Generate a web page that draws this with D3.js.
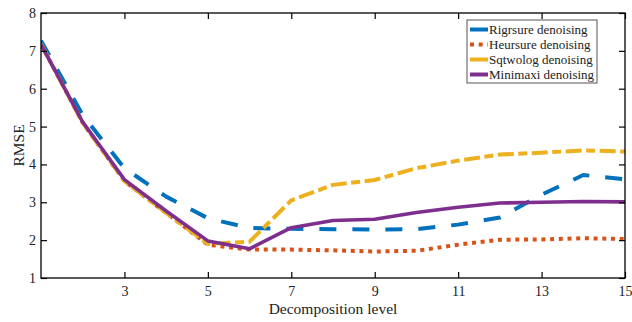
<!DOCTYPE html>
<html>
<head>
<meta charset="utf-8">
<script src="https://cdn.jsdelivr.net/npm/d3@7"></script>
<style>
  body { margin: 0; background: #fff; }
  svg text { font-family: "Liberation Serif", "Times New Roman", serif; fill: #222; }
</style>
</head>
<body>
<svg id="chart" width="632" height="322"></svg>
<script>
// decomposition levels 1..15
const levels = d3.range(1, 16);
const xTicks = [3, 5, 7, 9, 11, 13, 15];
const yTicks = [1, 2, 3, 4, 5, 6, 7, 8];

const rigrsure = [7.27, 5.3, 3.9, 3.15, 2.58, 2.32, 2.3, 2.29, 2.28, 2.29, 2.41, 2.6, 3.2, 3.72, 3.61];
const heursure = [7.18, 5.1, 3.56, 2.72, 1.88, 1.75, 1.75, 1.73, 1.7, 1.72, 1.88, 2.01, 2.02, 2.05, 2.03];
const sqtwolog = [7.18, 5.1, 3.56, 2.72, 1.9, 1.96, 3.05, 3.46, 3.59, 3.9, 4.1, 4.26, 4.31, 4.37, 4.34];
const minimaxi = [7.17, 5.12, 3.6, 2.77, 1.98, 1.77, 2.33, 2.52, 2.55, 2.73, 2.87, 2.98, 3.0, 3.02, 3.01];

const seriesNames = ["Rigrsure denoising", "Heursure denoising", "Sqtwolog denoising", "Minimaxi denoising"];
const seriesValues = [rigrsure, heursure, sqtwolog, minimaxi];
const seriesColors = ["#0072BD", "#D95319", "#EDB120", "#7E2F8E"];
const seriesDash = ["17,16", "4,4.7", "16,4.5,9,4.5", null];

const svg = d3.select("#chart");
const margin = { top: 13, right: 7, bottom: 44, left: 41 };
const W = 632, H = 322;
const iw = W - margin.left - margin.right;
const ih = H - margin.top - margin.bottom;

const x = d3.scaleLinear().domain([1, 15]).range([0, iw]);
const y = d3.scaleLinear().domain([1, 8]).range([ih, 0]);

const g = svg.append("g").attr("transform", `translate(${margin.left},${margin.top})`);

g.append("defs").append("clipPath").attr("id", "clip")
  .append("rect").attr("width", iw).attr("height", ih);

// lines
const line = d3.line().x((d, i) => x(levels[i])).y(d => y(d));
const plot = g.append("g").attr("clip-path", "url(#clip)");
seriesValues.forEach((vals, k) => {
  plot.append("path")
    .datum(vals)
    .attr("d", line)
    .attr("fill", "none")
    .attr("stroke", seriesColors[k])
    .attr("stroke-width", k === 3 ? 3.6 : 4)
    .attr("stroke-linejoin", "round")
    .attr("stroke-dasharray", seriesDash[k]);
});

// axes with inward ticks on all four sides
const tickSize = 6;
const axBottom = g.append("g").attr("transform", `translate(0,${ih})`)
  .call(d3.axisBottom(x).tickValues(xTicks).tickSizeInner(-tickSize).tickSizeOuter(0)
    .tickPadding(8).tickFormat(d3.format("d")));
const axLeft = g.append("g")
  .call(d3.axisLeft(y).tickValues(yTicks).tickSizeInner(-tickSize).tickSizeOuter(0)
    .tickPadding(5).tickFormat(d3.format("d")));
const axTop = g.append("g")
  .call(d3.axisTop(x).tickValues(xTicks).tickSizeInner(-tickSize).tickSizeOuter(0).tickFormat(""));
const axRight = g.append("g").attr("transform", `translate(${iw},0)`)
  .call(d3.axisRight(y).tickValues(yTicks).tickSizeInner(-tickSize).tickSizeOuter(0).tickFormat(""));

[axBottom, axLeft, axTop, axRight].forEach(a => {
  a.select(".domain").remove();
  a.selectAll("line").attr("stroke", "#000").attr("stroke-width", 1.2);
  a.selectAll("text").attr("font-size", 14).attr("fill", "#222")
    .style("font-family", '"Liberation Serif", serif');
});

g.append("rect")
  .attr("width", iw).attr("height", ih)
  .attr("fill", "none").attr("stroke", "#000").attr("stroke-width", 1.3);

// axis titles
svg.append("text")
  .attr("x", margin.left + iw / 2).attr("y", 314)
  .attr("text-anchor", "middle").attr("font-size", 15.5)
  .text("Decomposition level");
svg.append("text")
  .attr("transform", `translate(24,${margin.top + ih / 2}) rotate(-90)`)
  .attr("text-anchor", "middle").attr("font-size", 15.5)
  .text("RMSE");

// legend
const lg = svg.append("g").attr("transform", "translate(467,20)");
lg.append("rect").attr("width", 130).attr("height", 63)
  .attr("fill", "#fff").attr("stroke", "#555").attr("stroke-width", 1);
seriesNames.forEach((name, k) => {
  const ly = 9.5 + k * 15;
  lg.append("line")
    .attr("x1", 3).attr("x2", 21).attr("y1", ly).attr("y2", ly)
    .attr("stroke", seriesColors[k])
    .attr("stroke-width", 4)
    .attr("stroke-dasharray", k === 1 ? "4,4.7" : null);
  lg.append("text")
    .attr("x", 22).attr("y", ly + 4.5)
    .attr("font-size", 13)
    .text(name);
});
</script>
</body>
</html>
